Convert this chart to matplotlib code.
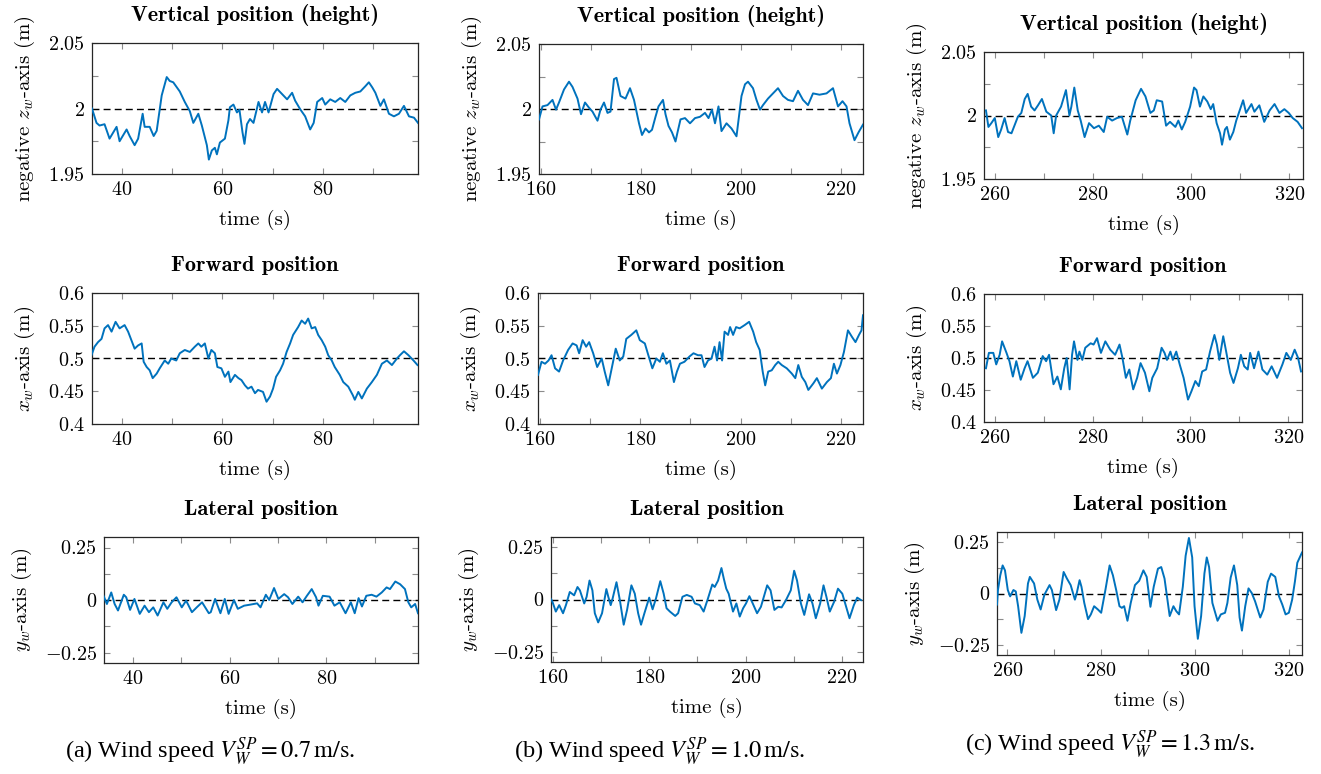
import matplotlib
matplotlib.use("Agg")
import matplotlib.pyplot as plt

plt.rcParams["mathtext.fontset"] = "cm"
plt.rcParams["font.family"] = ["cmr10", "DejaVu Serif"]
plt.rcParams["axes.unicode_minus"] = True

BLUE = "#0072BD"

# --- column (a): V = 0.7 m/s ---------------------------------------------
t_za = [34.0, 34.9, 35.5, 36.5, 37.5, 38.9, 39.5, 40.9, 41.5, 42.5, 43.2, 44.1, 44.5, 45.5,
        46.3, 46.9, 47.9, 48.9, 49.5, 50.2, 51.5, 52.5, 53.5, 54.2, 55.2, 55.9, 56.9, 57.3,
        57.9, 58.5, 58.9, 59.5, 60.5, 61.2, 61.5, 62.2, 62.9, 63.4, 64.0, 64.4, 64.9, 65.5,
        66.2, 67.2, 67.9, 68.5, 69.2, 70.2, 70.9, 71.9, 72.9, 73.9, 74.5, 75.5, 76.5, 77.5,
        78.2, 78.9, 79.9, 80.5, 81.5, 82.5, 83.5, 84.5, 85.5, 86.5, 87.5, 88.5, 89.2, 89.9,
        90.5, 91.5, 92.2, 93.2, 94.2, 95.2, 96.2, 97.2, 98.2, 99.0]
z_a = [2.000, 1.989, 1.987, 1.988, 1.977, 1.986, 1.975, 1.984, 1.979, 1.972, 1.977, 1.996,
       1.986, 1.986, 1.979, 1.983, 2.010, 2.024, 2.021, 2.020, 2.013, 2.005, 1.998, 1.989,
       1.996, 1.987, 1.972, 1.961, 1.968, 1.970, 1.965, 1.974, 1.977, 1.991, 2.001, 2.003,
       1.997, 1.999, 1.982, 1.973, 1.988, 1.992, 1.989, 2.005, 1.997, 2.005, 1.997, 2.011,
       2.015, 2.011, 2.007, 2.012, 2.006, 1.9995, 1.994, 1.984, 1.989, 2.005, 2.008, 2.003,
       2.007, 2.005, 2.008, 2.005, 2.010, 2.012, 2.013, 2.017, 2.020, 2.016, 2.012, 2.002,
       2.007, 1.996, 1.994, 1.996, 2.002, 1.994, 1.993, 1.989]

t_xa = [33.9, 34.5, 35.2, 35.9, 36.5, 37.2, 37.9, 38.7, 39.5, 40.5, 41.2, 42.1, 42.5, 43.2,
        43.9, 44.3, 44.9, 45.5, 46.1, 46.9, 47.5, 48.5, 49.2, 49.8, 50.8, 51.5, 52.5, 53.5,
        54.5, 55.2, 55.8, 56.5, 57.2, 57.8, 58.5, 59.0, 59.8, 60.5, 61.2, 61.6, 62.5, 63.2,
        63.8, 64.5, 65.1, 65.8, 66.5, 67.1, 68.1, 68.8, 69.5, 70.1, 70.7, 71.5, 72.1, 72.8,
        73.5, 74.1, 75.1, 75.8, 76.5, 77.1, 77.8, 78.5, 79.1, 79.8, 80.5, 81.1, 81.8, 82.4,
        83.4, 84.1, 85.1, 86.0, 86.4, 87.1, 87.8, 88.8, 89.8, 90.8, 91.8, 92.8, 93.8, 94.8,
        95.4, 96.2, 97.1, 98.1, 98.9]
x_a = [0.505, 0.518, 0.525, 0.530, 0.546, 0.551, 0.541, 0.556, 0.546, 0.551, 0.541, 0.523,
       0.515, 0.520, 0.523, 0.495, 0.487, 0.482, 0.470, 0.477, 0.485, 0.497, 0.492, 0.500,
       0.497, 0.508, 0.513, 0.510, 0.518, 0.523, 0.518, 0.523, 0.500, 0.513, 0.508, 0.487,
       0.485, 0.472, 0.480, 0.464, 0.475, 0.470, 0.467, 0.459, 0.454, 0.457, 0.447, 0.452,
       0.449, 0.434, 0.442, 0.454, 0.472, 0.482, 0.492, 0.510, 0.523, 0.536, 0.548, 0.558,
       0.553, 0.561, 0.546, 0.548, 0.536, 0.528, 0.518, 0.505, 0.497, 0.487, 0.475, 0.464,
       0.457, 0.444, 0.437, 0.449, 0.439, 0.454, 0.464, 0.475, 0.492, 0.497, 0.490, 0.500,
       0.505, 0.511, 0.505, 0.497, 0.490]

t_ya = [33.9, 34.6, 35.5, 36.2, 36.9, 38.1, 38.6, 39.4, 40.3, 41.4, 42.4, 43.3, 44.2, 45.1,
        46.3, 47.1, 48.0, 49.0, 50.1, 51.0, 52.2, 53.2, 54.3, 55.7, 56.1, 57.0, 58.1, 59.0,
        59.8, 60.9, 61.7, 63.0, 64.3, 65.7, 66.4, 67.5, 68.2, 69.2, 70.1, 71.3, 72.1, 73.0,
        74.2, 75.1, 76.0, 77.0, 77.9, 78.4, 79.3, 80.7, 81.7, 82.8, 84.0, 85.1, 85.9, 86.7,
        87.4, 88.3, 89.4, 90.4, 91.5, 92.5, 93.2, 94.3, 95.3, 96.3, 97.0, 97.6, 98.4, 99.0]
y_a = [0.020, -0.019, 0.036, -0.019, -0.050, 0.025, 0.013, -0.047, 0.005, -0.066, -0.027,
       -0.058, -0.035, -0.074, -0.011, -0.042, -0.011, 0.013, -0.035, -0.003, -0.058, -0.035,
       -0.011, -0.063, -0.058, 0.005, -0.063, 0.005, -0.066, 0.000, -0.042, -0.027, -0.022,
       -0.016, -0.035, 0.025, 0.000, 0.057, 0.005, 0.028, 0.013, -0.019, 0.016, -0.011,
       0.020, 0.052, 0.013, -0.027, 0.020, 0.016, -0.027, -0.011, -0.063, -0.011, -0.063,
       0.009, -0.031, 0.020, 0.025, 0.016, 0.036, 0.060, 0.052, 0.088, 0.075, 0.052, -0.011,
       -0.035, -0.019, -0.063]

# --- column (b): V = 1.0 m/s ---------------------------------------------
t_zb = [159.6, 160.3, 161.3, 162.3, 163.0, 163.6, 164.6, 165.6, 166.3, 167.3, 168.0, 168.8,
        169.6, 170.3, 171.3, 171.9, 172.6, 173.3, 173.9, 174.6, 175.1, 175.9, 176.9, 177.8,
        178.6, 179.6, 180.2, 180.9, 181.6, 182.2, 182.9, 183.5, 184.4, 184.9, 185.5, 186.2,
        186.9, 187.3, 187.9, 188.8, 189.8, 190.8, 191.8, 192.8, 193.5, 194.2, 194.8, 195.5,
        196.1, 197.1, 198.1, 199.1, 200.1, 200.8, 201.4, 202.4, 203.1, 203.8, 204.4, 205.4,
        206.4, 207.4, 208.4, 209.4, 210.4, 211.4, 212.4, 213.4, 214.4, 215.7, 217.1, 218.4,
        219.4, 220.3, 221.1, 221.7, 222.7, 223.5, 224.4]
z_b = [1.992, 2.002, 2.003, 2.007, 1.9995, 2.005, 2.015, 2.021, 2.017, 2.008, 1.996, 2.005,
       2.001, 1.998, 1.991, 1.9995, 2.005, 1.997, 1.998, 2.023, 2.024, 2.010, 2.008, 2.016,
       2.007, 1.989, 1.980, 1.985, 1.982, 1.984, 1.994, 2.002, 2.007, 1.996, 1.987, 1.982,
       1.975, 1.982, 1.992, 1.993, 1.989, 1.993, 1.994, 1.997, 1.993, 1.9995, 1.989, 2.002,
       1.983, 1.989, 1.985, 1.979, 2.010, 2.019, 2.021, 2.016, 2.007, 1.9995, 2.003, 2.008,
       2.012, 2.016, 2.010, 2.007, 2.006, 2.014, 2.007, 2.003, 2.012, 2.011, 2.012, 2.016,
       2.002, 2.006, 2.002, 1.989, 1.976, 1.982, 1.988]

t_xb = [159.6, 160.3, 161.0, 161.7, 162.3, 163.0, 163.8, 164.6, 165.6, 166.5, 167.3, 167.8,
        168.5, 169.2, 169.8, 170.6, 171.4, 172.3, 172.9, 173.6, 174.3, 175.1, 175.9, 176.6,
        177.2, 178.2, 179.2, 179.9, 180.9, 181.6, 182.4, 183.2, 183.9, 184.5, 185.2, 185.9,
        186.7, 187.3, 187.9, 188.8, 189.8, 190.6, 191.5, 192.2, 192.8, 193.5, 194.2, 194.8,
        195.3, 195.8, 196.3, 196.8, 197.5, 197.9, 198.5, 199.1, 199.8, 200.8, 201.7, 202.5,
        203.1, 203.8, 204.4, 204.9, 205.5, 206.2, 206.9, 207.5, 208.2, 209.2, 210.2, 210.9,
        211.5, 212.2, 212.9, 213.5, 214.5, 215.2, 216.2, 217.2, 218.0, 218.6, 219.2, 219.9,
        220.6, 221.4, 222.2, 222.9, 223.6, 224.1, 224.4]
x_b = [0.475, 0.495, 0.492, 0.497, 0.505, 0.485, 0.480, 0.497, 0.513, 0.523, 0.520, 0.508,
       0.528, 0.518, 0.525, 0.508, 0.487, 0.500, 0.480, 0.459, 0.485, 0.515, 0.497, 0.503,
       0.530, 0.536, 0.543, 0.528, 0.523, 0.505, 0.485, 0.500, 0.495, 0.508, 0.492, 0.497,
       0.464, 0.480, 0.492, 0.495, 0.503, 0.508, 0.505, 0.505, 0.487, 0.497, 0.500, 0.518,
       0.497, 0.525, 0.497, 0.541, 0.536, 0.548, 0.536, 0.548, 0.546, 0.551, 0.556, 0.541,
       0.525, 0.513, 0.480, 0.459, 0.480, 0.482, 0.490, 0.495, 0.490, 0.485, 0.477, 0.470,
       0.490, 0.472, 0.464, 0.452, 0.462, 0.470, 0.454, 0.464, 0.470, 0.492, 0.477, 0.490,
       0.510, 0.543, 0.533, 0.525, 0.536, 0.543, 0.566]

t_yb = [159.5, 159.9, 160.6, 161.3, 162.1, 162.7, 163.5, 164.4, 165.1, 165.6, 166.5, 167.0,
        167.6, 168.2, 168.7, 169.4, 170.2, 171.1, 171.5, 172.0, 172.4, 173.2, 173.9, 174.7,
        175.4, 176.3, 177.0, 177.7, 178.3, 179.0, 180.0, 180.7, 181.4, 182.3, 183.0, 183.6,
        184.3, 185.4, 186.0, 186.9, 187.8, 188.8, 189.5, 190.5, 191.3, 192.2, 193.1, 193.6,
        194.3, 195.0, 195.5, 196.0, 196.5, 197.4, 198.1, 198.8, 199.5, 200.1, 200.8, 201.5,
        202.4, 203.2, 204.5, 205.2, 206.0, 206.8, 207.5, 208.4, 209.4, 210.1, 210.7, 211.5,
        212.2, 213.2, 213.9, 214.6, 215.5, 216.2, 216.8, 217.5, 218.4, 219.2, 220.1, 220.8,
        221.6, 222.5, 223.2, 224.0]
y_b = [0.005, -0.011, -0.058, -0.027, -0.066, -0.027, 0.036, 0.020, 0.060, 0.044, -0.019,
       0.013, 0.091, 0.044, -0.066, -0.110, -0.066, 0.050, 0.013, -0.027, 0.005, 0.083,
       -0.003, -0.121, -0.050, 0.068, 0.028, -0.066, -0.121, -0.066, 0.009, -0.047, 0.005,
       0.088, 0.028, -0.042, -0.058, -0.079, -0.066, 0.013, 0.022, 0.013, -0.019, -0.027,
       -0.058, 0.005, 0.072, 0.060, 0.091, 0.151, 0.099, 0.052, 0.028, -0.058, -0.019,
       -0.082, -0.042, -0.019, 0.016, -0.019, -0.066, -0.035, 0.068, 0.044, -0.050, -0.035,
       -0.038, -0.003, 0.044, 0.138, 0.091, -0.019, -0.074, 0.025, -0.019, -0.090, -0.019,
       0.068, 0.013, -0.058, -0.011, 0.052, 0.028, -0.027, -0.090, -0.027, 0.009, -0.003]

# --- column (c): V = 1.3 m/s ---------------------------------------------
t_zc = [258.2, 258.7, 259.3, 260.0, 260.7, 261.3, 262.0, 262.7, 263.4, 264.0, 264.7, 265.4,
        266.1, 266.7, 267.4, 268.1, 268.8, 269.6, 270.5, 271.5, 272.0, 272.5, 273.5, 274.5,
        275.2, 275.6, 276.2, 276.9, 277.5, 278.3, 279.2, 280.2, 281.2, 282.2, 282.9, 283.9,
        284.9, 285.9, 287.0, 287.6, 288.7, 289.8, 290.7, 291.7, 292.4, 293.0, 294.1, 294.9,
        295.7, 296.8, 297.4, 298.1, 298.8, 299.8, 300.6, 301.1, 301.8, 302.5, 303.3, 304.0,
        304.5, 305.2, 305.9, 306.3, 306.9, 307.3, 307.9, 308.6, 309.2, 309.9, 310.6, 311.2,
        312.3, 312.9, 313.9, 314.9, 316.0, 317.0, 318.0, 319.0, 319.9, 320.7, 321.7, 322.6]
z_c = [2.004, 1.991, 1.994, 1.998, 1.983, 1.989, 1.998, 1.987, 1.986, 1.992, 1.999, 2.002,
       2.013, 2.017, 2.007, 2.004, 2.008, 2.013, 2.003, 2.000, 1.986, 2.000, 2.007, 2.020,
       2.000, 2.007, 2.022, 2.004, 1.996, 1.983, 1.994, 1.990, 1.992, 1.987, 1.999, 1.996,
       1.998, 1.999, 1.985, 1.996, 2.012, 2.021, 2.015, 2.002, 2.004, 2.012, 2.011, 1.992,
       1.995, 1.991, 1.996, 1.989, 1.995, 2.007, 2.022, 2.020, 2.007, 2.015, 2.011, 2.005,
       2.009, 1.994, 1.986, 1.977, 1.989, 1.991, 1.981, 1.987, 1.996, 2.004, 2.012, 2.002,
       2.009, 2.003, 2.008, 1.995, 2.004, 2.009, 2.002, 2.005, 2.002, 1.998, 1.995, 1.990]

t_xc = [258.2, 258.8, 259.7, 260.3, 261.0, 261.5, 262.4, 263.0, 263.7, 264.4, 265.3, 266.1,
        266.7, 267.8, 268.8, 269.8, 270.5, 271.1, 272.0, 272.8, 273.5, 274.2, 274.7, 275.3,
        275.8, 276.2, 276.9, 277.3, 277.9, 278.5, 279.6, 280.2, 280.9, 281.7, 282.6, 283.6,
        284.6, 285.5, 286.1, 286.8, 287.5, 288.3, 289.1, 289.8, 290.7, 291.6, 292.2, 293.2,
        294.1, 294.7, 295.2, 295.9, 296.4, 297.1, 297.8, 298.6, 299.5, 300.2, 301.0, 301.7,
        302.4, 303.2, 304.0, 304.9, 305.4, 305.9, 306.7, 307.3, 308.1, 308.8, 309.7, 310.3,
        311.0, 311.7, 312.2, 313.0, 313.9, 314.7, 315.7, 316.6, 317.7, 318.8, 319.6, 320.5,
        321.3, 322.0, 322.6]
x_c = [0.484, 0.508, 0.508, 0.490, 0.505, 0.526, 0.508, 0.495, 0.471, 0.495, 0.466, 0.484,
       0.495, 0.469, 0.477, 0.503, 0.495, 0.505, 0.459, 0.471, 0.451, 0.484, 0.500, 0.451,
       0.505, 0.526, 0.497, 0.510, 0.497, 0.516, 0.523, 0.521, 0.531, 0.508, 0.526, 0.513,
       0.505, 0.521, 0.500, 0.469, 0.482, 0.451, 0.469, 0.492, 0.477, 0.448, 0.469, 0.484,
       0.516, 0.508, 0.497, 0.510, 0.497, 0.510, 0.490, 0.469, 0.435, 0.448, 0.464, 0.456,
       0.479, 0.482, 0.510, 0.536, 0.521, 0.497, 0.534, 0.510, 0.477, 0.461, 0.484, 0.505,
       0.487, 0.482, 0.508, 0.484, 0.510, 0.482, 0.474, 0.487, 0.469, 0.490, 0.508, 0.497,
       0.513, 0.500, 0.479]

t_yc = [257.8, 258.0, 258.5, 259.0, 259.5, 260.1, 260.6, 261.3, 261.8, 262.3, 263.0, 263.7,
        264.4, 264.8, 265.7, 266.4, 267.1, 267.9, 269.0, 269.5, 270.4, 271.1, 272.0, 272.7,
        273.5, 274.4, 274.8, 275.4, 275.8, 276.4, 277.2, 277.8, 278.5, 279.3, 280.0, 280.9,
        281.8, 282.5, 283.2, 283.9, 284.4, 284.9, 285.6, 286.3, 287.2, 288.1, 289.0, 289.7,
        290.5, 291.2, 292.1, 292.8, 293.5, 294.6, 295.4, 296.0, 296.6, 297.4, 298.0, 298.7,
        299.4, 299.9, 300.6, 301.3, 302.0, 302.5, 303.0, 303.7, 304.8, 305.5, 306.4, 306.9,
        307.6, 308.3, 309.0, 309.5, 310.0, 310.7, 311.4, 312.1, 312.8, 313.9, 314.6, 315.5,
        316.2, 317.1, 317.9, 318.6, 319.3, 320.0, 320.7, 321.3, 321.8, 322.8]
y_c = [-0.054, 0.017, 0.089, 0.137, 0.113, 0.017, -0.014, 0.017, 0.010, -0.062, -0.192,
       -0.110, 0.049, 0.081, 0.049, -0.030, -0.078, -0.006, 0.041, 0.017, -0.081, -0.030,
       0.105, 0.073, 0.041, -0.030, 0.002, 0.065, 0.033, -0.046, -0.125, -0.102, -0.062,
       -0.078, -0.094, 0.017, 0.137, 0.089, 0.017, -0.062, -0.070, -0.062, -0.133, -0.046,
       0.041, 0.062, 0.113, 0.081, -0.065, 0.033, 0.121, 0.129, 0.073, -0.110, -0.062,
       -0.086, -0.102, 0.033, 0.184, 0.271, 0.176, -0.062, -0.221, -0.110, 0.097, 0.176,
       0.129, -0.046, -0.133, -0.102, -0.094, -0.046, 0.078, 0.137, 0.041, -0.117, -0.181,
       -0.062, 0.025, 0.002, -0.038, -0.117, -0.078, 0.057, 0.097, 0.081, -0.014, -0.054,
       -0.102, -0.094, -0.030, 0.060, 0.150, 0.200]

columns = [
    dict(xlim=(34.0, 99.0), xticks=range(40, 100, 10),
         series=[(t_za, z_a), (t_xa, x_a), (t_ya, y_a)],
         caption=r"(a) Wind speed $V_W^{SP} = 0.7\,\mathrm{m/s}$."),
    dict(xlim=(159.6, 224.4), xticks=range(160, 230, 10),
         series=[(t_zb, z_b), (t_xb, x_b), (t_yb, y_b)],
         caption=r"(b) Wind speed $V_W^{SP} = 1.0\,\mathrm{m/s}$."),
    dict(xlim=(257.8, 322.8), xticks=range(260, 330, 10),
         series=[(t_zc, z_c), (t_xc, x_c), (t_yc, y_c)],
         caption=r"(c) Wind speed $V_W^{SP} = 1.3\,\mathrm{m/s}$."),
]

rows = [
    dict(title="Vertical position (height)", ylabel=r"negative $z_w$-axis (m)", ref=2.0,
         ylim=(1.95, 2.05), yticks=[1.95, 1.975, 2.0, 2.025, 2.05],
         ylabels=[r"$1.95$", "", r"$2$", "", r"$2.05$"]),
    dict(title="Forward position", ylabel=r"$x_w$-axis (m)", ref=0.5,
         ylim=(0.4, 0.6), yticks=[0.4, 0.45, 0.5, 0.55, 0.6],
         ylabels=[r"$0.4$", r"$0.45$", r"$0.5$", r"$0.55$", r"$0.6$"]),
    dict(title="Lateral position", ylabel=r"$y_w$-axis (m)", ref=0.0,
         ylim=(-0.3, 0.3), yticks=[-0.25, -0.125, 0.0, 0.125, 0.25],
         ylabels=[r"$-0.25$", "", r"$0$", "", r"$0.25$"]),
]

# axes boxes in pixels: (left, top, right, bottom)
boxes = [
    [(92, 43, 418, 174), (539, 44, 863, 174), (984, 52, 1303, 179)],
    [(92, 293, 418, 424), (538, 293, 863, 424), (984, 294, 1302, 422)],
    [(104, 537, 418, 663), (551, 537, 863, 662), (997, 532, 1302, 655)],
]
caption_pos = [(210, 752), (660, 752), (1110, 745)]

W, H = 1321, 774
fig = plt.figure(figsize=(W / 100, H / 100), dpi=100)

for c, col in enumerate(columns):
    for r, row in enumerate(rows):
        l, t, rr, b = boxes[r][c]
        ax = fig.add_axes([l / W, 1 - b / H, (rr - l) / W, (b - t) / H])
        tt, vv = col["series"][r]
        ax.plot(tt, vv, color=BLUE, lw=1.4, zorder=3)
        ax.axhline(row["ref"], color="black", lw=1.0, ls=(0, (5, 3)), zorder=2)
        ax.set_xlim(*col["xlim"])
        ax.set_ylim(*row["ylim"])
        xt = list(col["xticks"])
        ax.set_xticks(xt)
        ax.set_xticklabels([rf"${v}$" if v % 20 == 0 else "" for v in xt])
        ax.set_yticks(row["yticks"])
        ax.set_yticklabels(row["ylabels"])
        ax.tick_params(direction="in", top=True, right=True, length=4, width=0.8,
                       color="0.55", labelsize=14.5, pad=5)
        for s in ax.spines.values():
            s.set_linewidth(0.9)
            s.set_color("0.15")
        ax.set_title(row["title"], family="cmb10", fontsize=16, pad=16)
        ax.set_xlabel("time (s)", fontsize=15, labelpad=8)
        ax.set_ylabel(row["ylabel"], fontsize=15, labelpad=8)

for c, col in enumerate(columns):
    x, y = caption_pos[c]
    fig.text(x / W, 1 - y / H, col["caption"], ha="center", va="center",
             family="Liberation Serif", math_fontfamily="stix", fontsize=17.5)

fig.savefig("out.png", dpi=100)
